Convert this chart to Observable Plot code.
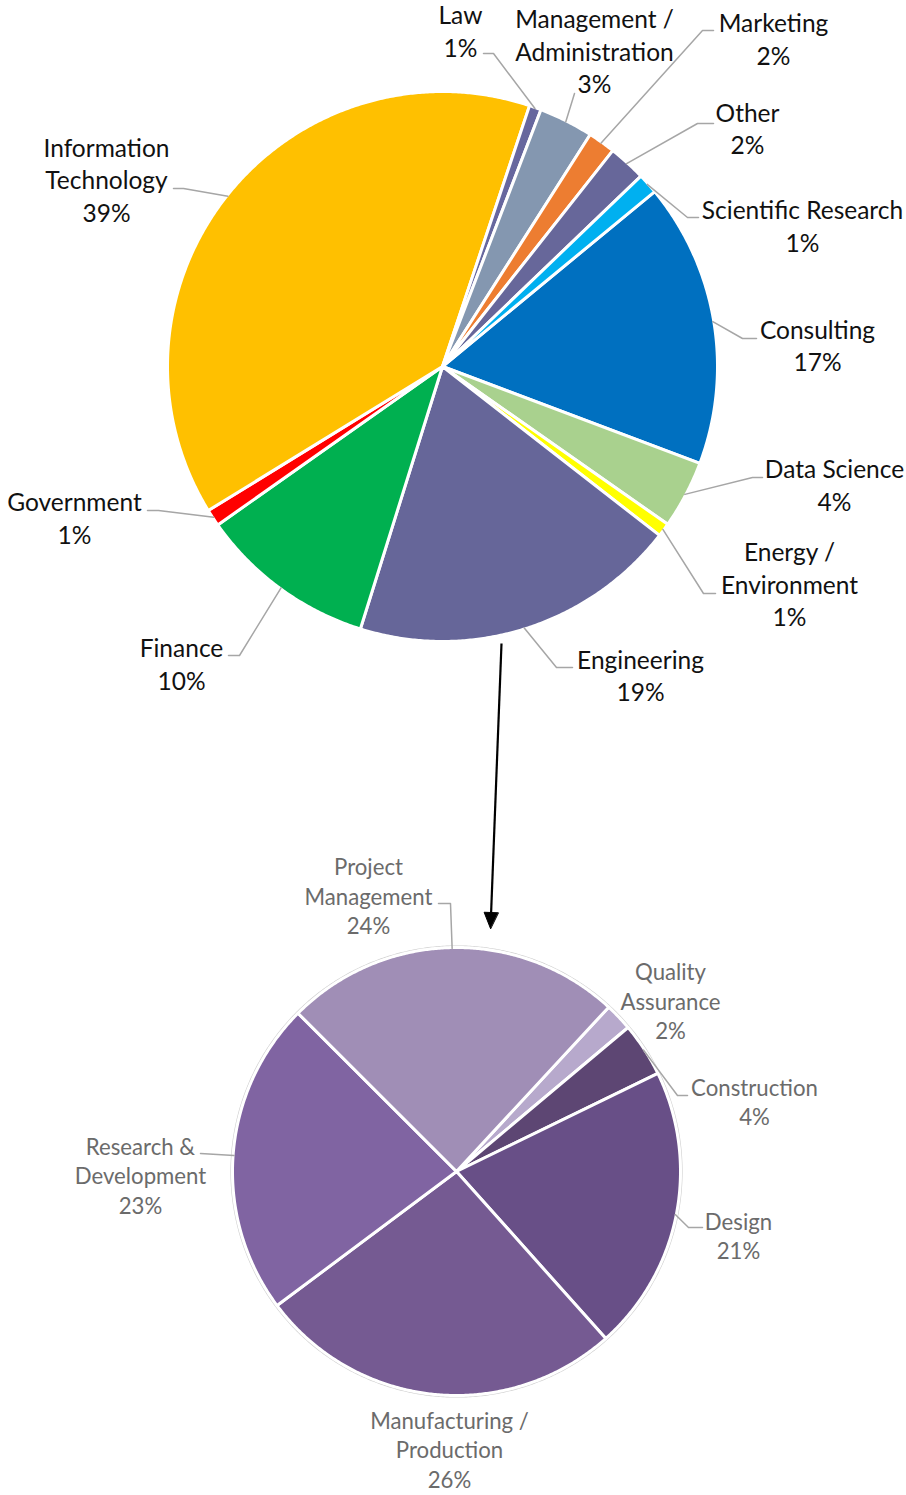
<!DOCTYPE html>
<html>
<head>
<meta charset="utf-8">
<script src="https://cdn.jsdelivr.net/npm/d3@7"></script>
<script src="https://cdn.jsdelivr.net/npm/@observablehq/plot@0.6"></script>
<style>
  html, body { margin: 0; padding: 0; background: #fff; }
  #chart svg { display: block; }
</style>
</head>
<body>
<div id="chart"></div>
<script>
// ---------- DATA ----------
const topNames = ["Consulting", "Data Science", "Energy /\nEnvironment", "Engineering", "Finance", "Government",
  "Information\nTechnology", "Law", "Management /\nAdministration", "Marketing", "Other", "Scientific Research"];
const topValues = [16.7, 4.0, 0.8, 19.3, 10.4, 1.0, 38.9, 0.7, 3.2, 1.6, 2.2, 1.2];
const topColors = ["#0070C0", "#A9D18E", "#FFFF00", "#666699", "#00B050", "#FF0000",
  "#FFC000", "#67679E", "#8497B0", "#ED7D31", "#67679A", "#00B0F0"];

const bottomNames = ["Quality\nAssurance", "Construction", "Design", "Manufacturing /\nProduction",
  "Research &\nDevelopment", "Project\nManagement"];
const bottomValues = [2.0, 3.9, 20.6, 26.4, 22.7, 24.4];
const bottomColors = ["#B7A9CC", "#5D4673", "#684F87", "#755A92", "#8064A2", "#A08EB6"];

// ---------- LAYOUT (positions / styles) ----------
const TOP = {cx: 442, cy: 366, r: 275, start: 50.5};
const BOT = {cx: 456, cy: 1171, r: 224, start: 42.8};

// label block centres
const topLabelPos = [[817, 346], [834, 485.5], [789, 585], [640, 676], [181, 664.5], [74, 518.5],
  [106, 180.5], [460, 31.5], [594, 52], [773, 39.5], [747, 129], [802, 226.5]];
const bottomLabelPos = [[670, 1002], [754, 1102.5], [738, 1236.5], [449, 1450.5], [140, 1176.5], [368, 897]];

// leader-line points on the label side (null = no leader)
const topLeaders = [[[756, 338], [742, 338]], [[762, 477], [752, 477]], [[715, 593], [703, 593]],
  [[572, 667], [556, 667]], [[228, 655], [239, 655]], [[147, 510], [158, 510]],
  [[173, 188], [183, 188]], [[483, 53], [493, 53]], [[574, 93]], [[713, 30], [702, 30]],
  [[713, 123], [697, 123]], [[698, 217], [687, 217]]];
const bottomLeaders = [null, [[687, 1095], [677, 1095]], [[702, 1227], [688, 1227]], null,
  [[200, 1153]], [[438, 903], [450, 903]]];

const arrowLayout = {x1: 501, y1: 643, x2: 490, y2: 928, head: 16, halfWidth: 7};

// ---------- GEOMETRY ----------
function slices(names, values, colors, L) {
  const total = d3.sum(values);
  let a = L.start;
  return names.map((n, i) => {
    const a0 = a, a1 = a + values[i] / total * 360;
    a = a1;
    return {name: n, pct: values[i] / total * 100, color: colors[i], a0, a1, mid: (a0 + a1) / 2};
  });
}
function polar(L, deg, r) {
  const t = deg * Math.PI / 180;
  return [L.cx + r * Math.sin(t), L.cy - r * Math.cos(t)];
}
function wedge(L, s) {
  const pts = [[L.cx, L.cy]];
  const n = Math.max(2, Math.ceil((s.a1 - s.a0) / 0.4));
  for (let i = 0; i <= n; i++) pts.push(polar(L, s.a0 + (s.a1 - s.a0) * i / n, L.r));
  return pts.map(([x, y]) => ({x, y}));
}
function circle(L, r) {
  const pts = [];
  for (let i = 0; i < 720; i++) pts.push(polar(L, i / 2, r));
  return pts.map(([x, y]) => ({x, y}));
}

const topS = slices(topNames, topValues, topColors, TOP);
const botS = slices(bottomNames, bottomValues, bottomColors, BOT);

const fmt = p => Math.round(p) + "%";
const topLabels = topS.map((s, i) => ({x: topLabelPos[i][0], y: topLabelPos[i][1], text: s.name + "\n" + fmt(s.pct)}));
const botLabels = botS.map((s, i) => ({x: bottomLabelPos[i][0], y: bottomLabelPos[i][1], text: s.name + "\n" + fmt(s.pct)}));

function leaderRows(S, leaders, L) {
  const rows = [];
  S.forEach((s, i) => {
    if (!leaders[i]) return;
    const pts = leaders[i].concat([polar(L, s.mid, L.r - 1)]);
    pts.forEach(([x, y]) => rows.push({x, y, k: s.name}));
  });
  return rows;
}
const leaderData = leaderRows(topS, topLeaders, TOP).concat(leaderRows(botS, bottomLeaders, BOT).map(d => ({...d, k: "b" + d.k})));

// arrow
const A = arrowLayout;
const dx = A.x2 - A.x1, dy = A.y2 - A.y1, len = Math.hypot(dx, dy);
const ux = dx / len, uy = dy / len;
const bx = A.x2 - ux * A.head, by = A.y2 - uy * A.head;
const headPts = [{x: A.x2, y: A.y2}, {x: bx - uy * A.halfWidth, y: by + ux * A.halfWidth}, {x: bx + uy * A.halfWidth, y: by - ux * A.halfWidth}];
const shaft = [{x1: A.x1, y1: A.y1, x2: bx, y2: by}];

const font = "Lato, 'Open Sans', sans-serif";

const marks = [];
// bottom pie outer ring
marks.push(Plot.line(circle(BOT, BOT.r + 1.5), {x: "x", y: "y", stroke: "#D0D0D0", strokeWidth: 1.2, curve: "linear-closed"}));
topS.forEach(s => marks.push(Plot.line(wedge(TOP, s), {x: "x", y: "y", fill: s.color, stroke: "white", strokeWidth: 3, strokeLinejoin: "round", curve: "linear-closed"})));
botS.forEach(s => marks.push(Plot.line(wedge(BOT, s), {x: "x", y: "y", fill: s.color, stroke: "white", strokeWidth: 3, strokeLinejoin: "round", curve: "linear-closed"})));
marks.push(Plot.line(leaderData, {x: "x", y: "y", z: "k", stroke: "#A6A6A6", strokeWidth: 1.5}));
marks.push(Plot.text(topLabels, {x: "x", y: "y", text: "text", fontSize: 24.5, lineHeight: 32.5 / 24.5, dy: -2, fill: "#111", fontFamily: font, textAnchor: "middle", lineAnchor: "middle"}));
marks.push(Plot.text(botLabels, {x: "x", y: "y", text: "text", fontSize: 22.2, lineHeight: 29.5 / 22.2, dy: -2, fill: "#6b6b6b", fontFamily: font, textAnchor: "middle", lineAnchor: "middle"}));
marks.push(Plot.link(shaft, {x1: "x1", y1: "y1", x2: "x2", y2: "y2", stroke: "black", strokeWidth: 2.2}));
marks.push(Plot.line(headPts, {x: "x", y: "y", fill: "black", stroke: "black", strokeWidth: 1, curve: "linear-closed"}));

const chart = Plot.plot({
  width: 906,
  height: 1495,
  margin: 0,
  x: {domain: [0, 906], range: [0, 906], axis: null},
  y: {domain: [0, 1495], range: [0, 1495], axis: null},
  style: {fontFamily: font, background: "white"},
  marks
});
document.getElementById("chart").appendChild(chart);
</script>
</body>
</html>
